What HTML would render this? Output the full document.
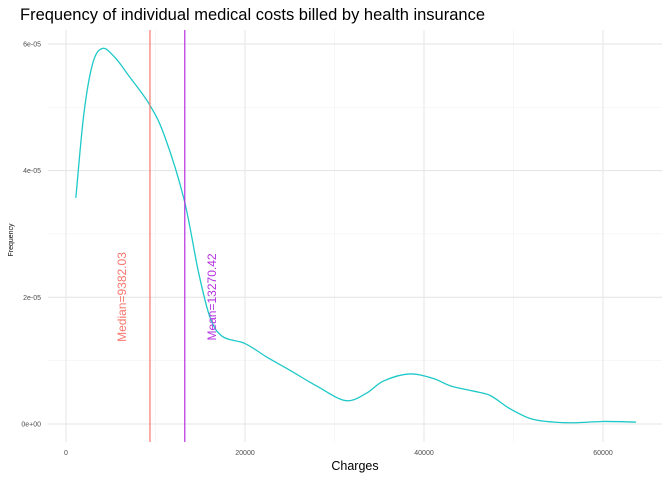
<!DOCTYPE html>
<html><head><meta charset="utf-8"><style>
body{margin:0;background:#fff;font-family:"Liberation Sans",sans-serif}
svg{display:block}
</style></head><body>
<svg width="672" height="480" id="chart" font-family="Liberation Sans, sans-serif"></svg>
<script>
const xValues=[1100,2000,3000,4100,5500,7000,9300,11000,13200,14800,16100,17500,20000,22500,25000,28000,31200,33500,35500,38400,41000,43000,45500,47400,49500,52000,54500,57000,60000,63700];
const densityValues=[3.57e-5,4.9e-5,5.7e-5,5.93e-5,5.78e-5,5.5e-5,5.05e-5,4.55e-5,3.54e-5,2.4e-5,1.68e-5,1.38e-5,1.27e-5,1.05e-5,0.85e-5,0.6e-5,0.37e-5,0.48e-5,0.68e-5,0.79e-5,0.72e-5,0.6e-5,0.52e-5,0.45e-5,0.25e-5,0.08e-5,0.03e-5,0.02e-5,0.04e-5,0.03e-5];
const xTicks=[0,20000,40000,60000];
const xTickLabels=["0","20000","40000","60000"];
const yTicks=[0,2e-5,4e-5,6e-5];
const yTickLabels=["0e+00","2e-05","4e-05","6e-05"];
const medianValue=9382.03, meanValue=13270.42;
const NS="http://www.w3.org/2000/svg";
const svg=document.getElementById('chart');
const X=v=>66+v*179/20000, Y=v=>424-v*126.7/2e-5;
function el(t,a,txt){const e=document.createElementNS(NS,t);for(const k in a)e.setAttribute(k,a[k]);if(txt!=null)e.textContent=txt;svg.appendChild(e);return e;}
const L=48,R=662,T=30,B=442;
[10000,30000,50000].forEach(v=>{const e=el('line',{x1:X(v),x2:X(v),y1:T,y2:B,stroke:'#f2f2f2','stroke-width':0.6});
});
[1e-5,3e-5,5e-5].forEach(v=>{const e=el('line',{x1:L,x2:R,y1:Y(v),y2:Y(v),stroke:'#f2f2f2','stroke-width':0.6});
});
xTicks.forEach((v,i)=>{const g=el('line',{x1:X(v),x2:X(v),y1:T,y2:B,stroke:'#e6e6e6','stroke-width':1.1});

const t=el('text',{x:X(v),y:455,'font-size':7,'text-anchor':'middle',fill:'#4d4d4d'},xTickLabels[i]);
});
yTicks.forEach((v,i)=>{const g=el('line',{x1:L,x2:R,y1:Y(v),y2:Y(v),stroke:'#e6e6e6','stroke-width':1.1});

const t=el('text',{x:41,y:Y(v)+2.5,'font-size':7,'text-anchor':'end',fill:'#4d4d4d'},yTickLabels[i]);
});
const P=xValues.map((x,i)=>[X(x),Y(densityValues[i])]);
let d='M'+P[0][0]+','+P[0][1];
for(let i=0;i<P.length-1;i++){const p0=P[i-1]||P[i],p1=P[i],p2=P[i+1],p3=P[i+2]||p2;
d+=` C${p1[0]+(p2[0]-p0[0])/6},${p1[1]+(p2[1]-p0[1])/6} ${p2[0]-(p3[0]-p1[0])/6},${p2[1]-(p3[1]-p1[1])/6} ${p2[0]},${p2[1]}`;}
const c=el('path',{d:d,fill:'none',stroke:'#1ec8c8','stroke-width':1.3});

const ml=el('line',{x1:X(medianValue),x2:X(medianValue),y1:T,y2:B,stroke:'#f8766d','stroke-width':1.2});

const mn=el('line',{x1:X(meanValue),x2:X(meanValue),y1:T,y2:B,stroke:'#b530e0','stroke-width':1.2});

const mt=el('text',{x:0,y:0,'font-size':12,'text-anchor':'middle',fill:'#f8766d',transform:`translate(${X(medianValue)-24},297) rotate(-90)`},'Median='+medianValue.toFixed(2));

const mnt=el('text',{x:0,y:0,'font-size':12,'text-anchor':'middle',fill:'#b530e0',transform:`translate(${X(meanValue)+31},297) rotate(-90)`},'Mean='+meanValue.toFixed(2));

const tt=el('text',{x:20,y:20,'font-size':16.5,fill:'#000'},'Frequency of individual medical costs billed by health insurance');

const xt=el('text',{x:355,y:470,'font-size':12.5,'text-anchor':'middle',fill:'#000'},'Charges');

const yt=el('text',{x:0,y:0,'font-size':7,'text-anchor':'middle',fill:'#000',transform:'translate(13,240) rotate(-90)'},'Frequency');

</script>
</body></html>
